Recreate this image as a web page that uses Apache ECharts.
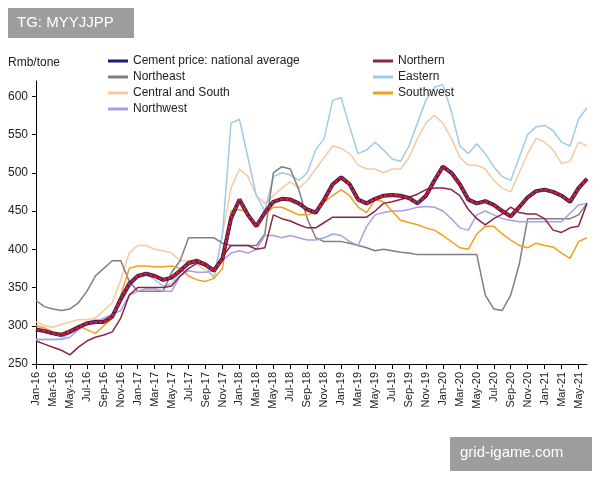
<!DOCTYPE html>
<html style="height: 100%">
<head>
<meta charset="utf-8">
<title>Cement price</title>
</head>
<body style="height: 100%; margin: 0; background: #fff">
<div id="container" style="width:600px;height:480px"></div>
<script type="text/javascript" src="https://cdn.jsdelivr.net/npm/echarts@6/dist/echarts.min.js"></script>
<script type="text/javascript">
var months = ['Jan','Feb','Mar','Apr','May','Jun','Jul','Aug','Sep','Oct','Nov','Dec'];
var categories = [];
for (var y = 16; y <= 21; y++) {
    for (var m = 0; m < 12; m++) {
        if (y == 21 && m > 5) break;
        categories.push(months[m] + '-' + y);
    }
}

var national = [295,293,290,288,292,298,303,305,305,312,335,355,
    365,368,365,360,363,372,382,385,380,372,388,440,
    465,445,430,448,462,466,465,460,452,448,465,485,
    494,485,465,460,466,470,471,470,467,460,470,490,
    508,500,485,465,460,463,458,450,443,455,468,476,
    478,475,470,462,480,492];
var northern = [280,276,272,268,262,272,280,285,288,292,310,340,
    350,350,350,350,352,365,375,382,378,375,390,405,
    405,405,400,402,445,440,437,432,428,428,435,442,
    442,442,442,442,450,460,462,465,468,472,478,480,
    480,478,470,452,440,432,440,446,455,448,446,446,
    440,425,422,428,430,460];
var northeast = [333,325,322,320,322,330,345,365,375,385,385,358,
    345,345,345,345,370,385,415,415,415,415,408,405,
    405,405,405,420,500,508,505,478,440,415,410,410,
    410,408,405,402,398,400,398,396,395,393,393,393,
    393,393,393,393,393,340,322,320,340,380,440,440,
    440,440,440,440,445,460];
var eastern = [282,282,282,283,290,300,305,308,308,312,330,350,
    365,368,360,352,355,370,380,383,378,362,420,565,
    570,520,470,450,495,500,497,490,500,530,545,595,
    598,560,525,530,540,530,518,515,535,565,595,612,
    615,580,535,525,538,525,508,495,490,520,550,560,
    562,555,540,535,570,585];
var central = [305,300,298,302,305,308,308,310,320,330,360,395,
    405,405,400,398,395,385,385,380,372,365,420,480,
    505,495,470,460,470,480,488,480,490,505,520,535,
    532,525,510,505,505,500,505,505,520,545,565,575,
    565,545,520,510,510,505,490,480,475,500,525,545,
    540,530,512,515,540,535];
var southwest = [300,297,292,290,295,300,295,290,300,310,340,375,
    378,378,377,377,378,375,365,360,358,362,375,450,
    452,448,430,445,455,455,450,445,445,448,462,470,
    478,470,455,448,465,462,450,438,435,432,428,425,
    418,410,402,400,420,430,430,420,412,405,402,408,
    405,403,395,388,410,415];
var northwest = [282,282,282,282,285,295,302,305,310,315,320,340,
    345,348,348,345,345,365,372,370,370,372,385,395,
    398,395,400,418,418,415,418,415,412,412,415,420,
    418,410,405,430,445,448,450,450,452,455,456,455,
    450,440,428,425,445,450,445,440,438,436,436,436,
    436,436,436,447,458,460];

var chart = echarts.init(document.getElementById('container'));
var font = 'Liberation Sans, Arial, sans-serif';

function line(name, data, color, width, extra) {
    var s = {
        name: name, type: 'line', data: data, showSymbol: false, symbol: 'none',
        color: color, lineStyle: {color: color, width: width}, animation: false
    };
    if (extra) for (var k in extra) s[k] = extra[k];
    return s;
}

var legendText = {fontFamily: font, fontSize: 12, color: '#222'};

option = {
    backgroundColor: '#fff',
    textStyle: {fontFamily: font},
    grid: {left: 36, right: 13, top: 81, bottom: 116},
    legend: [{
        data: ['Cement price: national average', 'Northeast', 'Central and South', 'Northwest'],
        orient: 'vertical', left: 103, top: 50, itemGap: 4,
        itemWidth: 20, itemHeight: 3, icon: 'rect', textStyle: legendText
    }, {
        data: ['Northern', 'Eastern', 'Southwest'],
        orient: 'vertical', left: 368, top: 50, itemGap: 4,
        itemWidth: 20, itemHeight: 3, icon: 'rect', textStyle: legendText
    }],
    graphic: [
        {type: 'text', left: 8, top: 57, style: {text: 'Rmb/tone', font: '12px ' + font, fill: '#222'}},
        {type: 'rect', left: 8, top: 8, shape: {width: 126, height: 30}, style: {fill: 'rgba(140,140,140,0.85)'}},
        {type: 'text', left: 17, top: 15, style: {text: 'TG: MYYJJPP', font: '15px ' + font, fill: '#fff'}},
        {type: 'rect', left: 450, top: 437, shape: {width: 142, height: 34}, style: {fill: 'rgba(140,140,140,0.85)'}},
        {type: 'text', left: 460, top: 445, style: {text: 'grid-igame.com', font: '15px ' + font, fill: '#fff'}}
    ],
    xAxis: {
        type: 'category', data: categories, boundaryGap: false,
        axisLine: {lineStyle: {color: '#000'}},
        axisTick: {interval: 1, lineStyle: {color: '#000'}},
        axisLabel: {interval: 1, rotate: 90, color: '#222', fontSize: 11, fontFamily: font},
        splitLine: {show: false}
    },
    yAxis: {
        type: 'value', min: 250, max: 620, interval: 50,
        axisLine: {show: true, lineStyle: {color: '#000'}},
        axisTick: {show: true, length: 4, lineStyle: {color: '#000'}},
        axisLabel: {color: '#222', fontSize: 12, fontFamily: font, showMaxLabel: false},
        splitLine: {show: false}
    },
    series: [
        line('Central and South', central, '#f7c9a0', 1.5),
        line('Eastern', eastern, '#9ecbe8', 1.5),
        line('Northeast', northeast, '#7f7f7f', 1.5),
        line('Northwest', northwest, '#a99fe2', 1.5),
        line('Southwest', southwest, '#f0a11c', 1.5),
        line('Northern', northern, '#8c2447', 1.5),
        line('Cement price: national average', national, '#1c1c70', 4),
        line('natl-overlay', national, '#d0202e', 2.5),
        line('natl-dots', national, '#111', 1.5, {lineStyle: {color: '#111', width: 1.5, type: [1, 4]}})
    ]
};
chart.setOption(option);
</script>
</body>
</html>
